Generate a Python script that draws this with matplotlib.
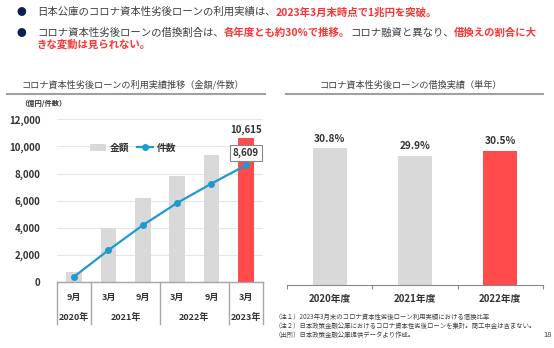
import matplotlib
matplotlib.use("Agg")
import matplotlib.pyplot as plt
from matplotlib.lines import Line2D

plt.rcParams['font.family'] = ['Noto Sans CJK JP', 'DejaVu Sans']

# ---------------- data ----------------
months = ["9月", "3月", "9月", "3月", "9月", "3月"]
years = ["2020年", "2021年", "2022年", "2023年"]
year_spans = [(0, 0), (1, 2), (3, 4), (5, 5)]
amounts = [750, 3950, 6200, 7850, 9360, 10615]
counts = [400, 2350, 4190, 5830, 7260, 8609]

fy_labels = ["2020年度", "2021年度", "2022年度"]
refi_ratio = [30.8, 29.9, 30.5]
refi_text = ["30.8%", "29.9%", "30.5%"]

GRAY = "#D9D9D9"
RED = "#FF4B4B"
BLUE = "#1E9AD0"
TXT = "#333333"
RED_TXT = "#FF3333"

W, H = 554, 348
fig = plt.figure(figsize=(W / 100, H / 100), dpi=100)

def fx(px):
    return px / W

def fy(py):
    return 1 - py / H

# ---------------- header ----------------
navy = "#0E1E50"
fig.text(fx(21), fy(12), "●", color=navy, fontsize=7, ha="center", va="center")
fig.text(fx(21), fy(33), "●", color=navy, fontsize=7, ha="center", va="center")
fs_h = 7.5
t1 = fig.text(fx(37), fy(12), "日本公庫のコロナ資本性劣後ローンの利用実績は、", color="#404040",
              fontsize=fs_h, ha="left", va="center")
fig.canvas.draw()
r = fig.canvas.get_renderer()
bb = t1.get_window_extent(r)
fig.text(bb.x1 / W, fy(12), "2023年3月末時点で1兆円を突破。", color=RED_TXT, fontsize=fs_h,
         fontweight="bold", ha="left", va="center")

t2 = fig.text(fx(37), fy(33), "コロナ資本性劣後ローンの借換割合は、", color="#404040",
              fontsize=fs_h, ha="left", va="center")
bb = t2.get_window_extent(r)
t3 = fig.text(bb.x1 / W, fy(33), "各年度とも約30%で推移。", color=RED_TXT, fontsize=fs_h,
              fontweight="bold", ha="left", va="center")
bb = t3.get_window_extent(r)
t4 = fig.text(bb.x1 / W, fy(33), "コロナ融資と異なり、", color="#404040", fontsize=fs_h,
              ha="left", va="center")
bb = t4.get_window_extent(r)
fig.text(bb.x1 / W, fy(33), "借換えの割合に大", color=RED_TXT, fontsize=fs_h,
         fontweight="bold", ha="left", va="center")
fig.text(fx(37), fy(45), "きな変動は見られない。", color=RED_TXT, fontsize=fs_h,
         fontweight="bold", ha="left", va="center")

# ---------------- section titles ----------------
fig.text(fx(133), fy(85), "コロナ資本性劣後ローンの利用実績推移（金額/件数）", color="#404040",
         fontsize=6.6, ha="center", va="center")
fig.add_artist(Line2D([fx(7), fx(265)], [fy(94), fy(94)], color="#A0A0A0", lw=1.5))
fig.text(fx(411), fy(85), "コロナ資本性劣後ローンの借換実績（単年）", color="#404040",
         fontsize=6.6, ha="center", va="center")
fig.add_artist(Line2D([fx(286), fx(543)], [fy(94), fy(94)], color="#A0A0A0", lw=1.5))
fig.text(fx(20), fy(103), "（億円/件数）", color=TXT, fontsize=5.2, fontweight="bold",
         ha="left", va="center")

# ---------------- left chart ----------------
axL = fig.add_axes([fx(57), fy(282), fx(263 - 57), (282 - 119.3) / H])
x = list(range(len(amounts)))
colors = [GRAY] * (len(amounts) - 1) + [RED]
bars = axL.bar(x, amounts, width=0.46, color=colors, zorder=2)
line, = axL.plot(x, counts, color=BLUE, lw=1.6, marker="o", ms=4, zorder=3)
axL.set_xlim(-0.5, 5.5)
axL.set_ylim(0, 12000)
axL.set_yticks(range(0, 12001, 2000))
axL.set_yticklabels([f"{v:,}" for v in range(0, 12001, 2000)], fontsize=7,
                    fontweight="bold", color=TXT)
axL.tick_params(axis="y", length=0, pad=12)
axL.set_xticks([])
axL.grid(axis="y", color="#E6E6E6", lw=0.8, zorder=0)
for s in ["left", "right", "top"]:
    axL.spines[s].set_visible(False)
axL.spines["bottom"].set_color("#A6A6A6")
axL.spines["bottom"].set_linewidth(1.0)

# value labels
axL.text(x[-1], amounts[-1] + 250, f"{amounts[-1]:,}", ha="center", va="bottom",
         fontsize=7, fontweight="bold", color=TXT)
axL.text(x[-1], counts[-1] + 880, f"{counts[-1]:,}", ha="center", va="center",
         fontsize=7, fontweight="bold", color=TXT, zorder=5,
         bbox=dict(boxstyle="square,pad=0.3", fc="white", ec="#888888", lw=0.8))

# legend
from matplotlib.patches import Patch
h_bar = Patch(facecolor=GRAY, edgecolor="none")
leg = axL.legend([h_bar, line], ["金額", "件数"], loc="upper left",
                 bbox_to_anchor=(0.12, 0.91), ncol=2, frameon=False,
                 handlelength=1.6, columnspacing=0.8, handletextpad=0.4,
                 prop={"weight": "bold", "size": 7})
for t in leg.get_texts():
    t.set_color(TXT)

# category table below
tr = axL.get_xaxis_transform()
depth = 42 / (282 - 119.3)
for xb in [-0.5, 0.5, 2.5, 4.5, 5.5]:
    axL.plot([xb, xb], [0, -depth], transform=tr, color="#A6A6A6", lw=1.0, clip_on=False)
for i, m in enumerate(months):
    axL.text(i, -15 / (282 - 119.3), m, transform=tr, ha="center", va="center",
             fontsize=6.5, fontweight="bold", color=TXT)
for (a, b), yl in zip(year_spans, years):
    axL.text((a + b) / 2, -35 / (282 - 119.3), yl, transform=tr, ha="center", va="center",
             fontsize=6.5, fontweight="bold", color=TXT)

# ---------------- right chart ----------------
axR = fig.add_axes([fx(287), fy(285), fx(543 - 287), (285 - 100) / H])
xr = list(range(len(refi_ratio)))
axR.bar(xr, refi_ratio, width=0.4, color=[GRAY, GRAY, RED], zorder=2)
axR.set_xlim(-0.5, 2.5)
axR.set_ylim(14.84, 14.84 + 185 / 8.56)
for i, (v, t) in enumerate(zip(refi_ratio, refi_text)):
    axR.text(i, v + 0.55, t, ha="center", va="bottom", fontsize=7.3, fontweight="bold",
             color=TXT)
axR.set_yticks([])
axR.set_xticks([-0.5, 0.5, 1.5, 2.5], minor=False)
axR.set_xticklabels([])
axR.tick_params(axis="x", length=3, color="#888888", width=0.8)
for i, lab in enumerate(fy_labels):
    axR.text(i, -14 / 185, lab, transform=axR.get_xaxis_transform(), ha="center",
             va="center", fontsize=7, fontweight="bold", color=TXT)
for s in ["left", "right", "top"]:
    axR.spines[s].set_visible(False)
axR.spines["bottom"].set_color("#888888")
axR.spines["bottom"].set_linewidth(0.8)

# footnotes
notes = ["（注１）2023年3月末のコロナ資本性劣後ローン利用実績における借換比率",
         "（注２）日本政策金融公庫におけるコロナ資本性劣後ローンを集計。商工中金は含まない。",
         "（出所）日本政策金融公庫提供データより作成。"]
for i, n in enumerate(notes):
    fig.text(fx(275), fy(317 + 9 * i), n, fontsize=4.6, color="#404040", ha="left", va="center")
fig.text(fx(552), fy(335), "18", fontsize=5.5, color="#404040", ha="right", va="center")

fig.savefig("out.png", dpi=100)
